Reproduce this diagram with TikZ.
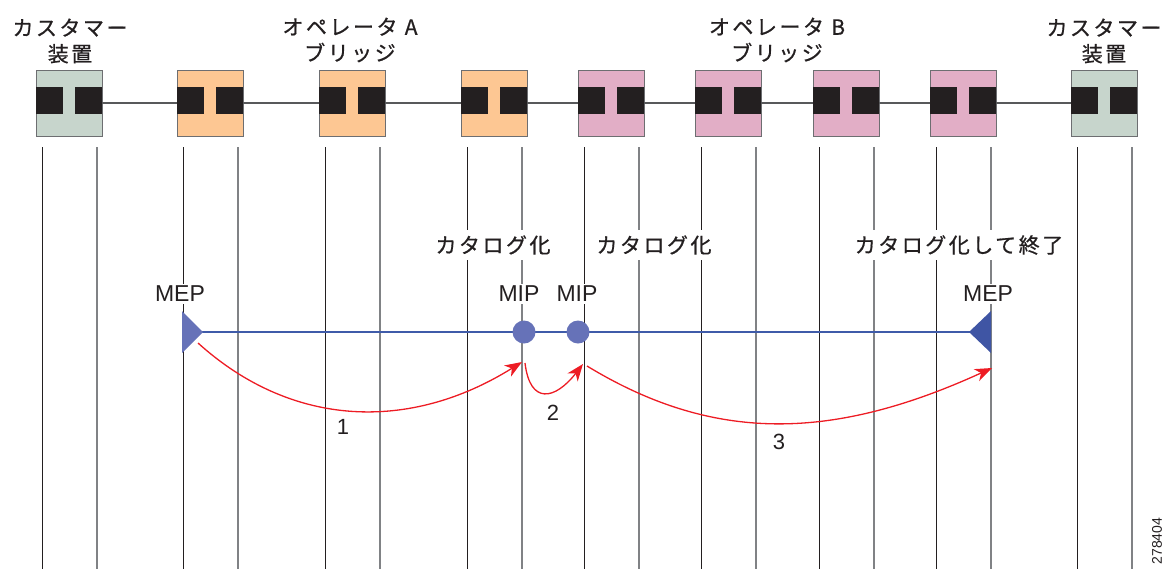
\documentclass[tikz,border=0pt]{standalone}
\usepackage{fontspec}
\setmainfont{Liberation Sans}
\newfontfamily\jpfont[LetterSpace=12,FakeBold=0.7]{Noto Sans CJK JP}
\usetikzlibrary{arrows.meta}

\definecolor{ink}{HTML}{231F20}
\definecolor{custfill}{HTML}{C7D5CC}
\definecolor{opafill}{HTML}{FDC793}
\definecolor{opbfill}{HTML}{E2AEC6}
\definecolor{edgegray}{HTML}{6D6E71}
\definecolor{wiregray}{HTML}{58595B}
\definecolor{lifegray}{HTML}{808285}
\definecolor{pathblue}{HTML}{3F5BA9}
\definecolor{mipblue}{HTML}{6672B8}
\definecolor{mepdark}{HTML}{3F55A4}
\definecolor{flowred}{HTML}{ED1C24}

\tikzset{
  devbox/.style={draw=edgegray, line width=1pt, minimum width=66pt,
    minimum height=66pt, inner sep=0pt, outer sep=0pt},
  custbox/.style={devbox, fill=custfill},
  opabox/.style={devbox, fill=opafill},
  opbbox/.style={devbox, fill=opbfill},
  portsq/.style={fill=ink},
  wireline/.style={draw=wiregray, line width=1.3pt},
  lifedark/.style={draw=ink, line width=1pt},
  lifelight/.style={draw=lifegray, line width=1.3pt},
  headtxt/.style={font=\jpfont\fontsize{21}{26}\selectfont, text=ink,
    align=center, inner sep=0pt},
  cattxt/.style={font=\jpfont\fontsize{21}{24}\selectfont, text=ink,
    fill=white, inner xsep=6pt, inner ysep=5pt},
  pointtxt/.style={font=\fontsize{23}{26}\selectfont, text=ink,
    fill=white, inner sep=2pt},
  hoptxt/.style={font=\fontsize{22}{24}\selectfont, text=ink, inner sep=0pt},
  pathline/.style={draw=pathblue, line width=1.3pt},
  mipdot/.style={circle, fill=mipblue, minimum size=23pt, inner sep=0pt},
  flowarrow/.style={draw=flowred, line width=1.3pt,
    -{Stealth[length=17pt,width=13pt,inset=5pt]}}
}

\begin{document}
\begin{tikzpicture}[x=1pt, y=-1pt]
\useasboundingbox (0,0) rectangle (1164,568);

% lifelines under each device
\foreach \x in {36,177,319,461,578,695,813,930,1071} {
  \draw[lifedark]  (\x+6,147) -- (\x+6,570);
  \draw[lifelight] (\x+61,147) -- (\x+61,570);
}

% devices with their two ports
\foreach \n/\x/\s in {c1/36/custbox, a1/177/opabox, a2/319/opabox,
    a3/461/opabox, b1/578/opbbox, b2/695/opbbox, b3/813/opbbox,
    b4/930/opbbox, c2/1071/custbox} {
  \node[\s] (\n) at (\x+33,103) {};
}
\foreach \p/\q in {c1/a1, a1/a2, a2/a3, a3/b1, b1/b2, b2/b3, b3/b4, b4/c2}
  \draw[wireline] (\p) -- (\q);
\foreach \x in {36,177,319,461,578,695,813,930,1071} {
  \fill[portsq] (\x,87) rectangle ++(27,27);
  \fill[portsq] (\x+39,87) rectangle ++(27,27);
}

% device titles
\node[headtxt] (tcustL) at (70,41)   {カスタマー\\装置};
\node[headtxt] (topA)   at (350,40)  {オペレータ A\\ブリッジ};
\node[headtxt] (topB)   at (777,40)  {オペレータ B\\ブリッジ};
\node[headtxt] (tcustR) at (1104,41) {カスタマー\\装置};

% cataloguing notes
\node[cattxt] (cat1) at (493,245) {カタログ化};
\node[cattxt] (cat2) at (654,245) {カタログ化};
\node[cattxt] (cat3) at (959,245) {カタログ化して終了};

% maintenance points
\node[pointtxt] (lmepL) at (180,294) {MEP};
\node[pointtxt] (lmip1) at (519,294) {MIP};
\node[pointtxt] (lmip2) at (577,294) {MIP};
\node[pointtxt] (lmepR) at (988,294) {MEP};

\coordinate (mepL) at (183,332);
\coordinate (mepR) at (991,332);
\draw[pathline] (mepL) -- (mepR);
\fill[mipblue] (182,311) -- (182,353) -- (203,332) -- cycle;
\fill[mepdark] (991,311) -- (991,353) -- (969,332) -- cycle;
\node[mipdot] (mip1) at (524,332) {};
\node[mipdot] (mip2) at (578,332) {};

% message hops
\coordinate (h1s) at (198,343);
\coordinate (h1e) at (522,362);
\coordinate (h2s) at (525,363);
\coordinate (h2e) at (583,364);
\coordinate (h3s) at (587,366);
\coordinate (h3e) at (992,368);
\draw[flowarrow] (h1s) .. controls (292,428) and (410,432) .. (h1e);
\draw[flowarrow] (h2s) .. controls (530,405) and (555,400) .. (h2e);
\draw[flowarrow] (h3s) .. controls (712,442) and (830,442) .. (h3e);

\node[hoptxt] (n1) at (343,427) {1};
\node[hoptxt] (n2) at (553,413) {2};
\node[hoptxt] (n3) at (779,442) {3};

% figure number
\node[font=\fontsize{14}{16}\selectfont, text=ink, rotate=90, inner sep=0pt]
  (fignum) at (1157,541) {278404};
\end{tikzpicture}
\end{document}
